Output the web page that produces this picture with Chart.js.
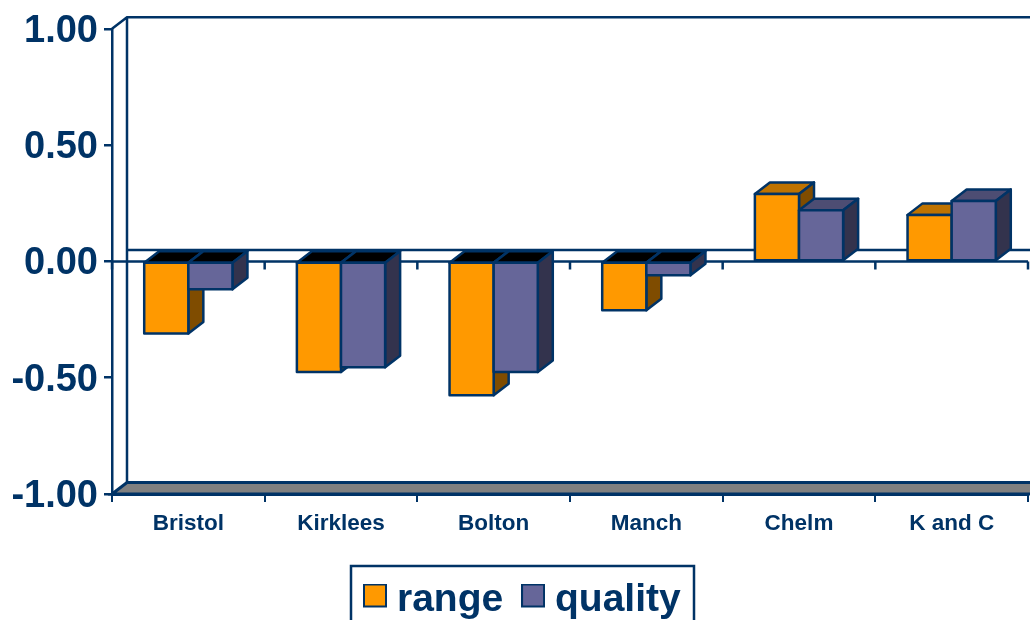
<!DOCTYPE html>
<html>
<head>
<meta charset="utf-8">
<style>html,body{margin:0;padding:0;background:#fff;overflow:hidden}canvas{display:block}</style>
<script src="https://cdn.jsdelivr.net/npm/chart.js@4/dist/chart.umd.min.js"></script>
</head>
<body>
<canvas id="c" width="1030" height="620"></canvas>
<script>
const categories = ["Bristol", "Kirklees", "Bolton", "Manch", "Chelm", "K and C"];
const rangeValues = [-0.31, -0.475, -0.575, -0.21, 0.29, 0.20];
const qualityValues = [-0.12, -0.455, -0.475, -0.06, 0.22, 0.26];
const yTicks = [-1, -0.5, 0, 0.5, 1];

const NAVY = "#003366";
const FONT = '"Liberation Sans", Arial, sans-serif';
const DX = 15, DY = 11.5, EDGE = 2.5;
const faces = [
  { front: "#FF9900", side: "#7F4C00", top: "#BF7300" },
  { front: "#666699", side: "#33334D", top: "#4D4D73" }
];

function swatch(color) {
  const s = document.createElement("canvas");
  s.width = 24; s.height = 34;
  const g = s.getContext("2d");
  g.fillStyle = color; g.fillRect(1, 1, 22, 22);
  g.strokeStyle = NAVY; g.lineWidth = 2; g.strokeRect(1, 1, 22, 22);
  return s;
}
const swatches = faces.map(f => swatch(f.front));

function poly(ctx, pts, fill) {
  ctx.beginPath();
  pts.forEach((p, i) => i ? ctx.lineTo(p[0], p[1]) : ctx.moveTo(p[0], p[1]));
  ctx.closePath();
  if (fill) { ctx.fillStyle = fill; ctx.fill(); }
  ctx.stroke();
}

function barRect(bar) {
  return {
    l: bar.x - bar.width / 2, r: bar.x + bar.width / 2,
    t: Math.min(bar.y, bar.base), b: Math.max(bar.y, bar.base)
  };
}

const box3d = {
  id: "box3d",
  beforeLayout(chart) {
    const l = chart.legend;
    if (l && !l._flat) {
      const fit = l.fit;
      l.fit = function () { fit.call(this); this.height = 0; };
      l._flat = true;
    }
  },
  beforeDraw(chart) {
    const l = chart.legend;
    l.left = 345.2; l.right = 1030; l.top = 553.7; l.bottom = 640;
    l.width = l.right - l.left; l.height = l.bottom - l.top;
    const ctx = chart.ctx;
    ctx.save();
    ctx.strokeStyle = NAVY; ctx.lineWidth = 2.5;
    ctx.strokeRect(351, 566, 343, 80);
    ctx.restore();
  },
  beforeDatasetsDraw(chart) {
    const { ctx, chartArea: a, scales } = chart;
    const zero = scales.y.getPixelForValue(0);
    const W = chart.width;
    ctx.save();
    ctx.strokeStyle = NAVY; ctx.lineWidth = 2.5; ctx.lineJoin = "miter";
    // back wall
    ctx.beginPath();
    ctx.moveTo(a.left, a.top);
    ctx.lineTo(a.left + DX, a.top - DY);
    ctx.lineTo(W, a.top - DY);
    ctx.moveTo(a.left + DX, a.top - DY);
    ctx.lineTo(a.left + DX, a.bottom - DY);
    ctx.moveTo(a.left + DX, zero - DY);
    ctx.lineTo(W, zero - DY);
    ctx.stroke();
    // floor
    ctx.lineWidth = 3;
    poly(ctx, [[a.left, a.bottom], [a.left + DX, a.bottom - DY], [W + 4, a.bottom - DY], [W + 4, a.bottom]], "#808080");
    // zero line with its ticks
    ctx.lineWidth = 2.5;
    ctx.beginPath();
    ctx.moveTo(a.left, zero); ctx.lineTo(a.right, zero);
    for (let i = 0; i <= categories.length; i++) {
      const x = a.left + i * (a.right - a.left) / categories.length;
      ctx.moveTo(x, zero); ctx.lineTo(x, zero + 8);
    }
    ctx.stroke();
    // left series first, so the right-hand box overlaps it
    ctx.strokeStyle = NAVY; ctx.lineWidth = EDGE; ctx.lineJoin = "round";
    chart.data.datasets.forEach((ds, index) => {
      const meta = chart.getDatasetMeta(index);
      const f = faces[index];
      meta.data.forEach((bar, i) => {
        const { l, r, t, b } = barRect(bar);
        poly(ctx, [[l, t], [l + DX, t - DY], [r + DX, t - DY], [r, t]], ds.data[i] < 0 ? "#000000" : f.top);
        poly(ctx, [[r, t], [r + DX, t - DY], [r + DX, b - DY], [r, b]], f.side);
      });
      meta.controller.draw();
      ctx.strokeStyle = NAVY; ctx.lineWidth = EDGE; ctx.lineJoin = "round";
      meta.data.forEach(bar => {
        const { l, r, t, b } = barRect(bar);
        ctx.strokeRect(l, t, r - l, b - t);
      });
    });
    ctx.restore();
    return false;
  }
};

new Chart(document.getElementById("c"), {
  type: "bar",
  data: {
    labels: categories,
    datasets: [
      { label: "range", data: rangeValues, backgroundColor: faces[0].front, borderColor: NAVY, borderWidth: 0, borderSkipped: false },
      { label: "quality", data: qualityValues, backgroundColor: faces[1].front, borderColor: NAVY, borderWidth: 0, borderSkipped: false }
    ]
  },
  plugins: [box3d],
  options: {
    responsive: false,
    animation: false,
    devicePixelRatio: 1,
    layout: { autoPadding: false, padding: { left: 0, top: 28, right: 2, bottom: 0 } },
    datasets: { bar: { categoryPercentage: 0.578, barPercentage: 1 } },
    scales: {
      x: {
        afterFit(s) { s.height = 126; },
        border: { color: NAVY, width: 3 },
        grid: { display: true, drawOnChartArea: false, color: NAVY, lineWidth: 2, tickLength: 8, tickColor: NAVY, offset: true },
        ticks: { color: NAVY, font: { family: FONT, size: 22.5, weight: "bold" }, padding: 8, maxRotation: 0, autoSkip: false }
      },
      y: {
        min: -1, max: 1,
        afterFit(s) { s.width = 112; },
        afterBuildTicks(s) { s.ticks = yTicks.map(value => ({ value })); },
        border: { color: NAVY, width: 2.5 },
        grid: { display: true, drawOnChartArea: false, color: NAVY, lineWidth: 2.5, tickLength: 8, tickColor: NAVY },
        ticks: { color: NAVY, font: { family: FONT, size: 38, weight: "bold" }, padding: 6, labelOffset: 2.5, callback: v => Number(v).toFixed(2) }
      }
    },
    plugins: {
      tooltip: { enabled: false },
      title: { display: false },
      legend: {
        display: true,
        position: "bottom",
        align: "start",
        labels: {
          usePointStyle: true,
          pointStyleWidth: 5,
          boxHeight: 24,
          padding: 27.3,
          color: NAVY,
          font: { family: FONT, size: 39, weight: "bold" },
          generateLabels(chart) {
            return Chart.defaults.plugins.legend.labels.generateLabels(chart).map(item => {
              item.pointStyle = swatches[item.datasetIndex];
              return item;
            });
          }
        }
      }
    }
  }
});
</script>
</body>
</html>
